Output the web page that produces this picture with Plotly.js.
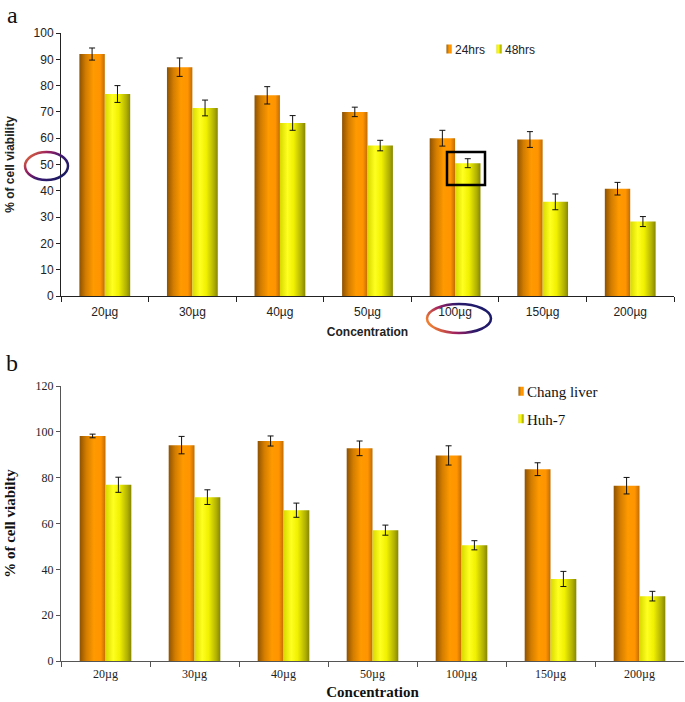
<!DOCTYPE html>
<html><head><meta charset="utf-8">
<script src="https://cdn.plot.ly/plotly-3.0.1.min.js"></script>
<style>body{margin:0;background:#fff}#chart{width:685px;height:702px}</style>
</head><body><div id="chart"></div>
<script>
var categories = ['20µg','30µg','40µg','50µg','100µg','150µg','200µg'];
var a24 = [92, 87, 76.3, 70, 60, 59.5, 40.8];
var a24Err = [2.3, 3.5, 3.3, 1.8, 3, 3, 2.4];
var a48 = [76.8, 71.5, 65.8, 57.2, 50.5, 35.8, 28.3];
var a48Err = [3.2, 3, 2.8, 2, 1.7, 3, 1.9];
var bChang = [98.2, 94.2, 96, 92.8, 89.7, 83.7, 76.5];
var bChangErr = [0.8, 3.8, 2.2, 3.2, 4.2, 2.8, 3.6];
var bHuh = [76.9, 71.5, 65.8, 57.1, 50.5, 35.8, 28.3];
var bHuhErr = [3.3, 3.2, 3.1, 2.2, 2, 3.3, 2.1];
var ticksA = [0,10,20,30,40,50,60,70,80,90,100];
var ticksB = [0,20,40,60,80,100,120];

var ORANGE = '#ff9900', YELLOW = '#ffff00';
var sans = 'Liberation Sans, Arial, sans-serif';
var serif = 'Liberation Serif, Times New Roman, serif';
function err(arr){return {type:'data', array:arr, visible:true, color:'#111', thickness:1, width:3};}

var data = [
  {type:'bar', name:'24hrs', x:categories, y:a24, error_y:err(a24Err), marker:{color:ORANGE}, xaxis:'x', yaxis:'y', legend:'legend', legendwidth:5},
  {type:'bar', name:'48hrs', x:categories, y:a48, error_y:err(a48Err), marker:{color:YELLOW}, xaxis:'x', yaxis:'y', legend:'legend', legendwidth:40},
  {type:'bar', name:'Chang liver', x:categories, y:bChang, error_y:err(bChangErr), marker:{color:ORANGE}, xaxis:'x2', yaxis:'y2', legend:'legend2', legendgroup:'g1'},
  {type:'bar', name:'Huh-7', x:categories, y:bHuh, error_y:err(bHuhErr), marker:{color:YELLOW}, xaxis:'x2', yaxis:'y2', legend:'legend2', legendgroup:'g2'}
];

var W=685, H=702;
function px(x){return x/W;} function py(y){return 1-y/H;}

var layout = {
  width:W, height:H, margin:{l:0,r:0,t:0,b:0},
  paper_bgcolor:'#fff', plot_bgcolor:'#fff',
  barmode:'group', bargap:0.42, bargroupgap:0,
  showlegend:true,
  xaxis:{domain:[px(61), px(674)], anchor:'y', showline:true, linecolor:'#222', linewidth:1,
    ticks:'outside', tickson:'boundaries', ticklen:5, tickcolor:'#222', ticklabelstandoff:5,
    tickfont:{family:sans, size:12, color:'#222'}, showgrid:false,
    title:{text:'<b>Concentration</b>', font:{family:sans, size:12, color:'#222'}, standoff:9}},
  yaxis:{domain:[py(296), py(33)], anchor:'x', range:[0,100], tickvals:ticksA, showline:true, linecolor:'#222', linewidth:1,
    ticks:'outside', ticklen:4, tickcolor:'#222', showgrid:false, zeroline:false,
    tickfont:{family:sans, size:12, color:'#222'},
    title:{text:'<b>% of cell viability</b>', font:{family:sans, size:12, color:'#222'}, standoff:16}},
  xaxis2:{domain:[px(61), px(684)], anchor:'y2', showline:true, linecolor:'#555', linewidth:1,
    ticks:'outside', tickson:'boundaries', ticklen:5, tickcolor:'#555', ticklabelstandoff:2,
    tickfont:{family:serif, size:12, color:'#222'}, showgrid:false,
    title:{text:'<b>Concentration</b>', font:{family:serif, size:15, color:'#111'}, standoff:6}},
  yaxis2:{domain:[py(661), py(386)], anchor:'x2', range:[0,120], tickvals:ticksB, showline:true, linecolor:'#555', linewidth:1,
    ticks:'outside', ticklen:4, tickcolor:'#555', showgrid:false, zeroline:false,
    tickfont:{family:serif, size:12, color:'#222'},
    title:{text:'<b>% of cell viabilty</b>', font:{family:serif, size:15, color:'#111'}, standoff:16}},
  legend:{orientation:'h', x:px(415), y:py(49), xanchor:'left', yanchor:'middle',
    font:{family:sans, size:12, color:'#222'}, bgcolor:'rgba(0,0,0,0)', itemwidth:30},
  legend2:{orientation:'v', x:px(487), y:py(375), xanchor:'left', yanchor:'top', tracegroupgap:5,
    font:{family:serif, size:15, color:'#111'}, bgcolor:'rgba(0,0,0,0)', itemwidth:30},
  annotations:[
    {text:'a', xref:'paper', yref:'paper', x:px(12), y:py(15), showarrow:false, xanchor:'center', yanchor:'middle', font:{family:serif, size:24, color:'#111'}},
    {text:'b', xref:'paper', yref:'paper', x:px(12), y:py(363), showarrow:false, xanchor:'center', yanchor:'middle', font:{family:serif, size:24, color:'#111'}}
  ],
  shapes:[
    {type:'circle', xref:'paper', yref:'paper', x0:px(25), x1:px(68), y0:py(180), y1:py(152), line:{color:'#6a1a6a', width:2.5}},
    {type:'circle', xref:'paper', yref:'paper', x0:px(427), x1:px(491), y0:py(333), y1:py(304), line:{color:'#3a1a6a', width:2.5}},
    {type:'rect', xref:'paper', yref:'paper', x0:px(447), x1:px(485), y0:py(185), y1:py(152), line:{color:'#000', width:2.5}}
  ]
};

function applyGradients(gd){
  var ns='http://www.w3.org/2000/svg';
  var svg = gd.querySelector('svg.main-svg');
  var defs = svg.querySelector('defs') || svg.insertBefore(document.createElementNS(ns,'defs'), svg.firstChild);
  function grad(id, x1,y1,x2,y2, stops){
    var g=document.createElementNS(ns,'linearGradient');
    g.setAttribute('id',id); g.setAttribute('x1',x1); g.setAttribute('y1',y1); g.setAttribute('x2',x2); g.setAttribute('y2',y2);
    stops.forEach(function(s){var st=document.createElementNS(ns,'stop'); st.setAttribute('offset',s[0]); st.setAttribute('stop-color',s[1]); g.appendChild(st);});
    defs.appendChild(g);
  }
  grad('gOr',0,0,1,0,[[0,'#8e5200'],[0.25,'#d27c00'],[0.55,'#ff9a00'],[0.82,'#ff9400'],[1,'#c06c00']]);
  grad('gYe',0,0,1,0,[[0,'#d8d800'],[0.3,'#ffff20'],[0.55,'#f0f000'],[0.85,'#b0b000'],[1,'#868600']]);
  grad('gC1',0,0,1,0.7,[[0,'#f08030'],[0.35,'#9a2060'],[0.65,'#3a1a70'],[1,'#1a1a60']]);
  grad('gC2',0,0.6,1,0.3,[[0,'#f08030'],[0.3,'#a02060'],[0.6,'#2a1a6a'],[1,'#1a1a6a']]);
  gd.querySelectorAll('.barlayer path, .legendpoints path').forEach(function(p){
    var f=p.style.fill;
    if(f==='rgb(255, 153, 0)') p.style.fill='url(#gOr)';
    else if(f==='rgb(255, 255, 0)') p.style.fill='url(#gYe)';
  });
  gd.querySelectorAll('.legendpoints path').forEach(function(p){
    var t=p.getAttribute('transform')||'';
    p.setAttribute('transform', t+' translate(14,0) scale(0.42,0.75)');
    p.style.strokeWidth='0';
  });
  var s0=gd.querySelector('.shapelayer path[data-index="0"]');
  var s1=gd.querySelector('.shapelayer path[data-index="1"]');
  if(s0) s0.style.stroke='url(#gC1)';
  if(s1) s1.style.stroke='url(#gC2)';
}

Plotly.newPlot('chart', data, layout, {displayModeBar:false, staticPlot:true}).then(applyGradients);
</script></body></html>
